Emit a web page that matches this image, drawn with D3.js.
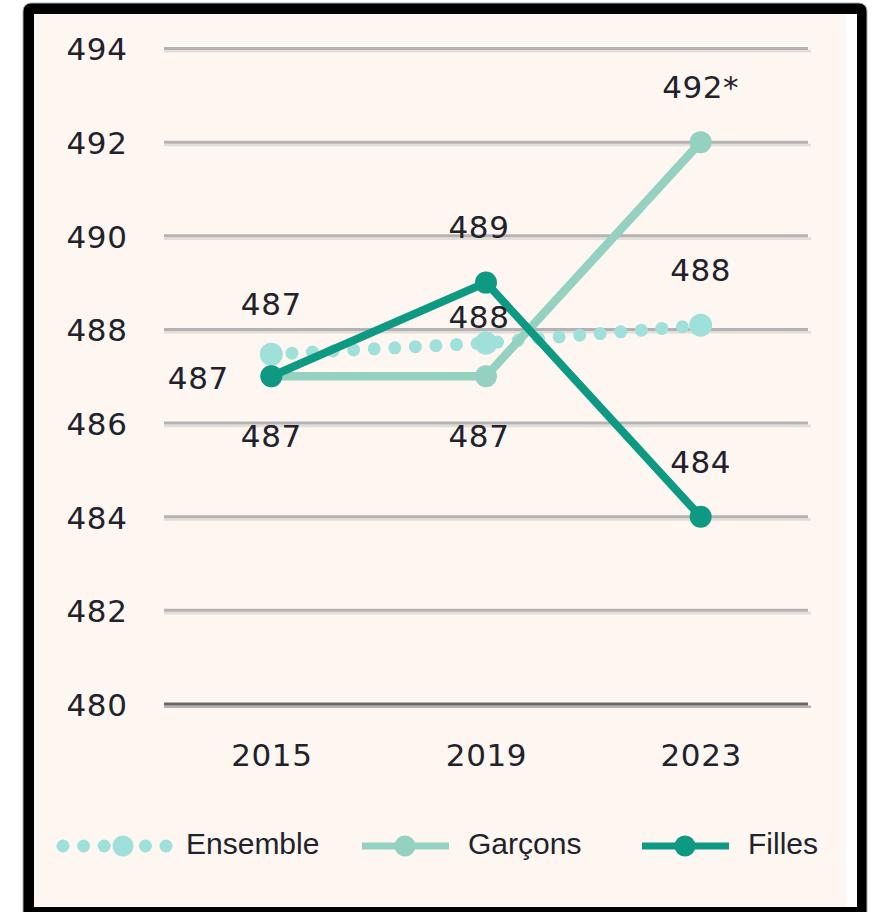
<!DOCTYPE html>
<html>
<head>
<meta charset="utf-8">
<script src="https://cdn.jsdelivr.net/npm/d3@7"></script>
<style>
  html, body { margin: 0; padding: 0; background: #ffffff; }
  svg { display: block; }
</style>
</head>
<body>
<div id="chart"></div>
<script>
// ---------- data ----------
const years = ["2015", "2019", "2023"];
const ensembleValues = [487.47, 487.71, 488.09];
const garconsValues = [487, 487, 492];
const fillesValues = [487, 489, 484];
const ensembleLabels = ["487", "488", "488"];
const garconsLabels = ["487", "487", "492*"];
const fillesLabels = ["487", "489", "484"];
const yTicks = [480, 482, 484, 486, 488, 490, 492, 494];
const seriesNames = ["Ensemble", "Garçons", "Filles"];

// ---------- label placement (style, relative to each point) ----------
const ensembleLabelOffsets = [[0, -39], [-7, -15.5], [0, -44]];
const garconsLabelOffsets = [[0, 71], [-7, 71], [0, -44]];
const fillesLabelOffsets = [[-73, 13], [-7, -44.5], [0, -44]];

// ---------- setup ----------
const W = 874, H = 912;
const svg = d3.select("#chart").append("svg")
  .attr("width", W).attr("height", H);

// frame
svg.append("rect").attr("x", 23).attr("y", 3).attr("width", 844).attr("height", 930)
  .attr("rx", 8).attr("fill", "#000").attr("stroke", "#aaa").attr("stroke-width", 1);
svg.append("rect").attr("x", 34).attr("y", 14).attr("width", 823).attr("height", 893)
  .attr("fill", "#ffffff");
svg.append("rect").attr("x", 34).attr("y", 14).attr("width", 812).attr("height", 892)
  .attr("fill", "#fef6f0");

const x = d3.scalePoint().domain(years).range([164, 808]).padding(0.5);
const y = d3.scaleLinear().domain([480, 494]).range([704, 48.5]);

const numFont = "'DejaVu Sans', sans-serif";
const txtColor = "#22222c";

// gridlines
const grid = svg.append("g");
yTicks.forEach(t => {
  const yy = y(t);
  grid.append("line").attr("x1", 164).attr("x2", 811)
    .attr("y1", yy + 2.8).attr("y2", yy + 2.8)
    .attr("stroke", t === 480 ? "#b3b3b3" : "#e2ddd8").attr("stroke-width", 2.6);
  grid.append("line").attr("x1", 164).attr("x2", 808)
    .attr("y1", yy).attr("y2", yy)
    .attr("stroke", t === 480 ? "#666666" : "#b3b3b3").attr("stroke-width", 3);
});

// y axis labels via d3 axis
const yAxis = svg.append("g").attr("transform", "translate(97,0)")
  .call(d3.axisLeft(y).tickValues(yTicks).tickSize(0).tickPadding(0).tickFormat(d3.format("d")));
yAxis.select(".domain").remove();
yAxis.selectAll("text")
  .attr("text-anchor", "middle").attr("x", 0).attr("dy", "0.37em")
  .style("font-family", numFont).style("font-size", "31px")
  .style("letter-spacing", "0.6px").attr("fill", txtColor);

// x axis labels
const xAxis = svg.append("g").attr("transform", "translate(0,766)")
  .call(d3.axisBottom(x).tickSize(0).tickPadding(0));
xAxis.select(".domain").remove();
xAxis.selectAll("text")
  .attr("dy", 0).attr("y", 0)
  .style("font-family", numFont).style("font-size", "31px")
  .style("letter-spacing", "0.6px").attr("fill", txtColor);

const colors = { ens: "#a0e0da", gar: "#94d1c0", fil: "#0e9a82" };

const line = d3.line().x((d, i) => x(years[i])).y(d => y(d));

// Ensemble (dotted)
svg.append("path").datum(ensembleValues)
  .attr("d", line).attr("fill", "none")
  .attr("stroke", colors.ens).attr("stroke-width", 13)
  .attr("stroke-linecap", "round").attr("stroke-dasharray", "0 20.6");
svg.append("g").selectAll("circle").data(ensembleValues).join("circle")
  .attr("cx", (d, i) => x(years[i])).attr("cy", d => y(d)).attr("r", 11.5)
  .attr("fill", colors.ens);

// Garçons
svg.append("path").datum(garconsValues)
  .attr("d", line).attr("fill", "none")
  .attr("stroke", colors.gar).attr("stroke-width", 8.5)
  .attr("stroke-linejoin", "round");
svg.append("g").selectAll("circle").data(garconsValues).join("circle")
  .attr("cx", (d, i) => x(years[i])).attr("cy", d => y(d)).attr("r", 11)
  .attr("fill", colors.gar);

// Filles
svg.append("path").datum(fillesValues)
  .attr("d", line).attr("fill", "none")
  .attr("stroke", colors.fil).attr("stroke-width", 8)
  .attr("stroke-linejoin", "round");
svg.append("g").selectAll("circle").data(fillesValues).join("circle")
  .attr("cx", (d, i) => x(years[i])).attr("cy", d => y(d)).attr("r", 11)
  .attr("fill", colors.fil);

// value labels
function addLabels(values, labels, offsets) {
  svg.append("g").selectAll("text").data(values).join("text")
    .attr("x", (d, i) => x(years[i]) + offsets[i][0])
    .attr("y", (d, i) => y(d) + offsets[i][1])
    .attr("text-anchor", "middle")
    .style("font-family", numFont).style("font-size", "31px")
    .style("letter-spacing", "0.6px").attr("fill", txtColor)
    .text((d, i) => labels[i]);
}
addLabels(ensembleValues, ensembleLabels, ensembleLabelOffsets);
addLabels(garconsValues, garconsLabels, garconsLabelOffsets);
addLabels(fillesValues, fillesLabels, fillesLabelOffsets);

// legend
const legY = 846;
const legFont = "'Liberation Sans', Arial, sans-serif";
const leg = svg.append("g");
// Ensemble
leg.append("line").attr("x1", 63).attr("x2", 167).attr("y1", legY).attr("y2", legY)
  .attr("stroke", colors.ens).attr("stroke-width", 13)
  .attr("stroke-linecap", "round").attr("stroke-dasharray", "0 20.6");
leg.append("circle").attr("cx", 123).attr("cy", legY).attr("r", 10.5).attr("fill", colors.ens);
// Garçons
leg.append("line").attr("x1", 362).attr("x2", 449).attr("y1", legY).attr("y2", legY)
  .attr("stroke", colors.gar).attr("stroke-width", 7);
leg.append("circle").attr("cx", 405).attr("cy", legY).attr("r", 10.5).attr("fill", colors.gar);
// Filles
leg.append("line").attr("x1", 642).attr("x2", 729).attr("y1", legY).attr("y2", legY)
  .attr("stroke", colors.fil).attr("stroke-width", 7);
leg.append("circle").attr("cx", 685).attr("cy", legY).attr("r", 10.5).attr("fill", colors.fil);

const legTextX = [186, 468, 748];
leg.selectAll("text.lg").data(seriesNames).join("text")
  .attr("class", "lg")
  .attr("x", (d, i) => legTextX[i]).attr("y", 854)
  .style("font-family", legFont).style("font-size", "30px")
  .attr("fill", txtColor)
  .text(d => d);
</script>
</body>
</html>
